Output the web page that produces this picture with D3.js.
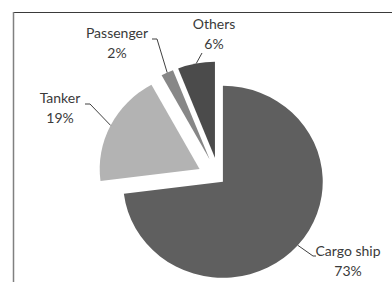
<!DOCTYPE html>
<html>
<head>
<meta charset="utf-8">
<script src="https://cdn.jsdelivr.net/npm/d3@7"></script>
<style>
  body { margin: 0; background: #fff; }
  svg text { font-family: Lato, "Open Sans", sans-serif; fill: #3a3a3a; }
</style>
</head>
<body>
<div id="chart"></div>
<script>
const categories = ["Cargo ship", "Tanker", "Passenger", "Others"];
const values = [73, 19, 2, 6];
const colors = ["#5f5f5f", "#b3b3b3", "#878787", "#4b4b4b"];

const width = 392;
const height = 282;

// pie geometry (slightly wider than tall, like the source)
const cx = 219, cy = 178.5, r = 96, sx = 1.04;
const explode = [5, 21, 21, 21];

// where each label sits, and the elbow of its leader line
const labelPos = [
  { x: 348, y: 256, elbow: [[313, 256], [316, 256]] },
  { x: 60, y: 103, elbow: [[90, 104], [85, 104]] },
  { x: 117, y: 38, elbow: [[157, 39], [152, 39]] },
  { x: 214, y: 29, elbow: [[202, 53]] }
];

const svg = d3.select('#chart')
  .append('svg')
  .attr('width', width)
  .attr('height', height)

// frame
svg.append('line')
  .attr('x1', 13).attr('y1', 12.5).attr('x2', width).attr('y2', 12.5)
  .attr('stroke', '#3a3a3a').attr('stroke-width', 1)
svg.append('line')
  .attr('x1', 13.5).attr('y1', 12).attr('x2', 13.5).attr('y2', height)
  .attr('stroke', '#808080').attr('stroke-width', 1.5)

const data = categories.map((c, i) => ({ name: c, value: values[i] }));

const pie = d3.pie()
  .value(d => d.value)
  .sort(null)

const arc = d3.arc()
  .innerRadius(0)
  .outerRadius(r)

const arcs = pie(data);

// direction of a slice's bisector
const dir = (a) => {
  const m = (a.startAngle + a.endAngle) / 2;
  return [Math.sin(m), -Math.cos(m)];
};

const g = svg.append('g')
  .attr('transform', `translate(${cx}, ${cy})`)

g.selectAll('path')
  .data(arcs)
  .enter()
  .append('path')
  .attr('d', arc)
  .attr('fill', (d, i) => colors[i])
  .attr('transform', (d, i) => {
    const [dx, dy] = dir(d);
    return `translate(${dx * explode[i] * sx}, ${dy * explode[i]}) scale(${sx}, 1)`;
  })

// leader lines
arcs.forEach((d, i) => {
  const [dx, dy] = dir(d);
  const start = [cx + dx * (r + explode[i]) * sx, cy + dy * (r + explode[i])];
  const pts = [start].concat(labelPos[i].elbow);
  svg.append('path')
    .attr('d', d3.line()(pts))
    .attr('fill', 'none')
    .attr('stroke', '#404040')
    .attr('stroke-width', 1)
});

// labels
arcs.forEach((d, i) => {
  const t = svg.append('text')
    .attr('text-anchor', 'middle')
    .attr('font-size', 14)
  t.append('tspan')
    .attr('x', labelPos[i].x)
    .attr('y', labelPos[i].y)
    .text(d.data.name)
  t.append('tspan')
    .attr('x', labelPos[i].x)
    .attr('y', labelPos[i].y + 19.5)
    .text(d.data.value + '%')
});
</script>
</body>
</html>
